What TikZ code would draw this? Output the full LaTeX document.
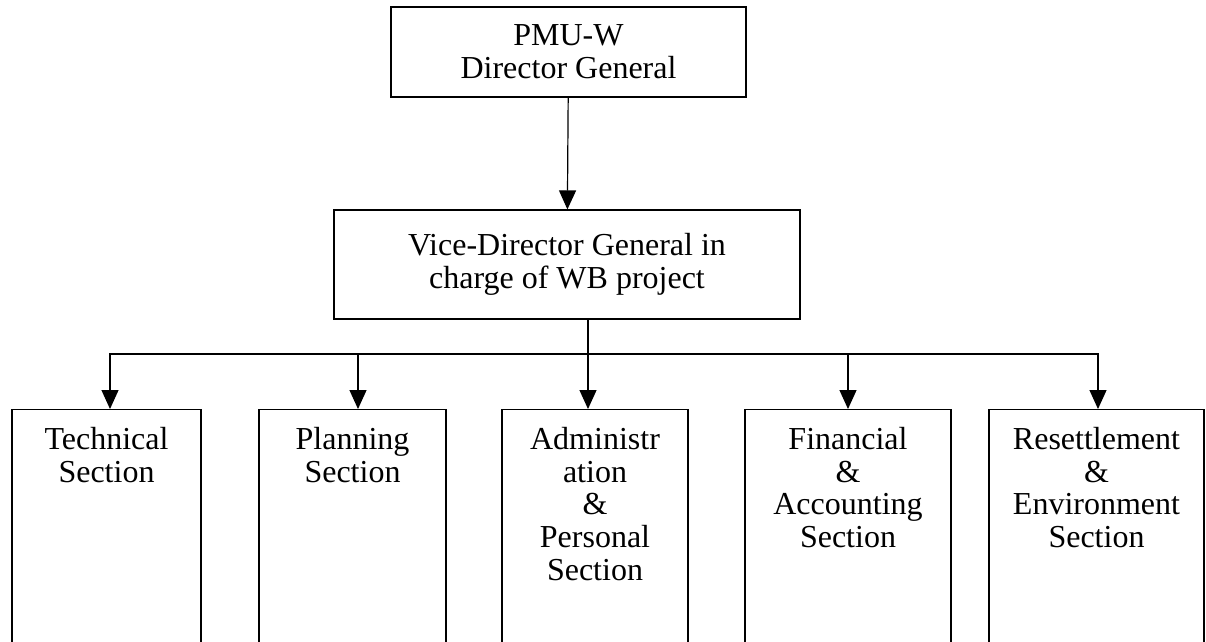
\documentclass[tikz,border=0pt]{standalone}
\usepackage{fontspec}
\setmainfont{Liberation Serif}
\usetikzlibrary{arrows.meta,positioning}

\begin{document}
\begin{tikzpicture}[x=1pt,y=-1pt,
box/.style={draw,line width=1.2pt,align=center,inner sep=0pt,
font=\fontsize{32}{33}\selectfont},
sect/.style={box,anchor=north,minimum height=260pt},
sectlbl/.style={anchor=north,align=center,inner sep=0pt,yshift=-18pt,
font=\fontsize{32}{32.7}\selectfont},
arr/.style={-{Triangle[length=19pt,width=17pt]},line width=1.2pt}
]
\useasboundingbox (0,0) rectangle (1206,641);

\node[box,minimum width=355pt,minimum height=90pt] (pmu) at (568.5,52) {PMU-W\\Director General};
\node[box,minimum width=466pt,minimum height=109pt] (vice) at (567,264.5)
  {Vice-Director General in\\charge of WB project};

\node[sect,minimum width=189pt,label={[sectlbl]north:Technical\\Section}] (tech) at (106.5,409) {};
\node[sect,minimum width=187pt,label={[sectlbl]north:Planning\\Section}] (plan) at (352.5,409) {};
\node[sect,minimum width=186pt,label={[sectlbl]north:Administr\\ation\\\&\\Personal\\Section}] (admin) at (595,409) {};
\node[sect,minimum width=206pt,label={[sectlbl]north:Financial\\\&\\Accounting\\Section}] (fin) at (848,409) {};
\node[sect,minimum width=215pt,label={[sectlbl]north:Resettlement\\\&\\Environment\\Section}] (res) at (1096.5,409) {};

\coordinate (bus) at (588,354);

\draw[arr] (pmu) -- (vice);
\draw[line width=1.2pt] (vice.south -| bus) -- (bus);
\foreach \s/\dx in {tech/3.5,plan/5.5,admin/-7,fin/0,res/1.5}
  \draw[arr] (bus) -| ([xshift=\dx pt]\s.north);
\end{tikzpicture}
\end{document}
